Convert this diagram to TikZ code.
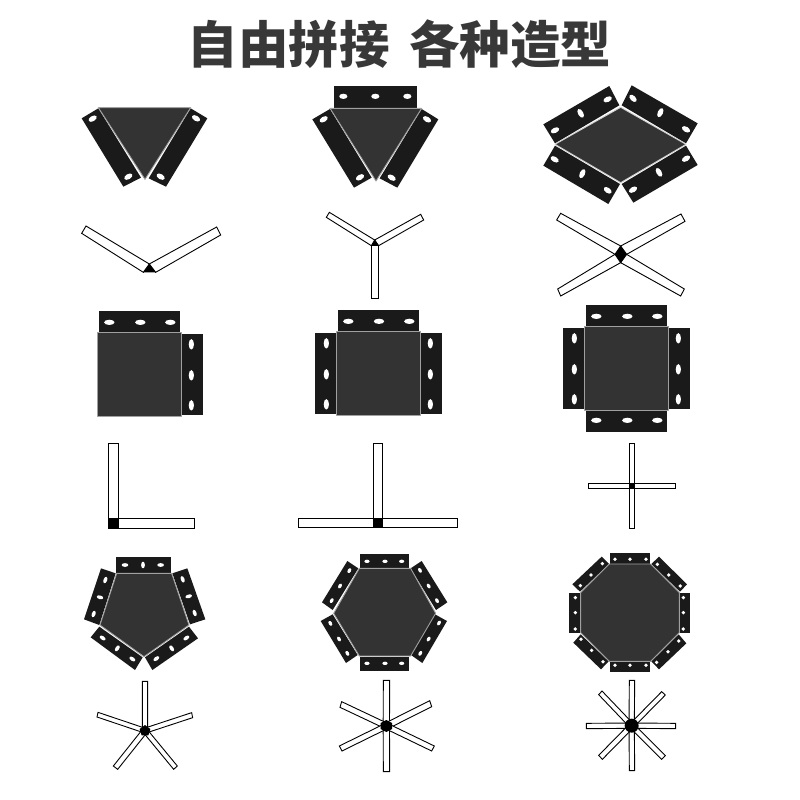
\documentclass[tikz,border=0pt]{standalone}
\usepackage{fontspec}
\newfontfamily\cjk{Noto Sans CJK SC}
\usetikzlibrary{calc}
\definecolor{plateblack}{HTML}{1A1A1A}
\definecolor{facegrey}{HTML}{333333}
\definecolor{edgegrey}{HTML}{A0A0A0}
\definecolor{titlegrey}{HTML}{383838}
\tikzset{
  plate/.style={fill=plateblack},
  face/.style={fill=facegrey,draw=edgegrey,line width=0.9pt,line join=round},
  barbox/.style={draw=black,fill=white,line width=0.9pt},
  hub/.style={fill=black},
  holefill/.style={fill=white},
  zoomed/.style={shift={#1},scale=0.33333}
}
% hole: x, y, x radius, y radius, rotation (radii enlarged slightly)
\newcommand\hl[5]{\fill[holefill,rotate around={#5:(#1,#2)}] (#1,#2) ellipse [x radius=1.12*#3,y radius=1.12*#4];}
% bar from the far end (A,B) to the centre C
\newcommand\spoke[3]{\draw[barbox] (#1) -- (#2) -- ($(#3)-.5*(#1)+.5*(#2)$) -- ($(#3)+.5*(#1)-.5*(#2)$) -- cycle;}
\begin{document}
\begin{tikzpicture}[x=1pt,y=-1pt]
\useasboundingbox (0,0) rectangle (800,800);
\node[inner sep=0pt,text=titlegrey] (title) at (399.5,44) {\cjk\bfseries\fontsize{50.5}{50.5}\selectfont 自由拼接\hspace{0.38em}各种造型};

% --- row 1, col 1: triangle
\begin{scope}[zoomed={(60,80)}]
\fill[plate] (65,115)--(115,85)--(243,293)--(190,320)--cycle;
\fill[plate] (392,85)--(442,115)--(318,320)--(266,295)--cycle;
\hl{98}{116}{12}{7}{30}\hl{205}{290}{12}{7}{30}
\hl{408}{115}{12}{7}{-30}\hl{302}{290}{12}{7}{-30}
\draw[face] (115,83)--(392,83)--(255,298)--cycle;
\draw[barbox] (78,438)--(65,460)--(250,577)--(268,552)--cycle;
\draw[barbox] (470,441)--(482,465)--(287,577)--(268,552)--cycle;
\fill[hub] (268,552)--(250,577)--(287,577)--cycle;
\end{scope}

% --- row 1, col 2: triangle, three plates
\begin{scope}[zoomed={(300,80)}]
\fill[plate] (103,18) rectangle (350,83);
\hl{130}{49}{11}{7}{0}\hl{226}{49}{11}{7}{0}\hl{322}{49}{11}{7}{0}
\fill[plate] (37,118)--(90,87)--(215,293)--(162,323)--cycle;
\fill[plate] (365,87)--(415,118)--(292,323)--(239,295)--cycle;
\hl{71}{118}{12}{7}{30}\hl{180}{292}{12}{7}{30}
\hl{381}{118}{12}{7}{-30}\hl{275}{293}{12}{7}{-30}
\draw[face] (90,85)--(365,85)--(228,303)--cycle;
\draw[barbox] (88,397)--(79,412)--(214,497)--(224,480)--cycle;
\draw[barbox] (362,403)--(371,420)--(236,497)--(224,480)--cycle;
\draw[barbox] (214,497) rectangle (236,656);
\fill[hub] (225,480)--(214,497)--(236,497)--cycle;
\end{scope}

% --- row 1, col 3: rhombus
\begin{scope}[zoomed={(530,80)}]
\fill[plate] (40,133)--(238,18)--(268,76)--(75,190)--cycle;
\fill[plate] (305,16)--(503,130)--(468,190)--(275,76)--cycle;
\fill[plate] (75,197)--(270,312)--(235,372)--(40,257)--cycle;
\fill[plate] (468,197)--(503,255)--(310,368)--(275,312)--cycle;
\hl{75}{151}{12}{7}{25}\hl{152}{100}{13}{7}{-60}\hl{233}{58}{12}{7}{25}
\hl{309}{55}{12}{7}{-45}\hl{391}{98}{13}{7}{65}\hl{468}{148}{12}{7}{-30}
\hl{74}{238}{12}{7}{-30}\hl{157}{281}{13}{7}{65}\hl{233}{331}{12}{7}{-35}
\hl{468}{236}{12}{7}{30}\hl{387}{277}{13}{7}{-60}\hl{309}{329}{12}{7}{30}
\draw[face,draw=edgegrey!50!white] (272,82)--(468,193)--(272,308)--(75,193)--cycle;
\draw[barbox] (92,400)--(80,420)--(255,523)--(272,498)--cycle;
\draw[barbox] (453,402)--(465,424)--(290,523)--(272,498)--cycle;
\draw[barbox] (83,627)--(92,648)--(272,548)--(255,523)--cycle;
\draw[barbox] (463,627)--(452,648)--(272,548)--(290,523)--cycle;
\fill[hub] (272,498)--(290,523)--(272,548)--(255,523)--cycle;
\end{scope}

% --- row 2, col 1: square, two plates
\begin{scope}[zoomed={(80,300)}]
\fill[plate] (57,33) rectangle (300,96);
\fill[plate] (306,102) rectangle (369,345);
\hl{88}{67}{14}{7}{0}\hl{181}{67}{14}{7}{0}\hl{271}{67}{14}{7}{0}
\hl{334}{133}{7}{14}{0}\hl{334}{226}{7}{14}{0}\hl{334}{316}{7}{14}{0}
\draw[face] (52,97) rectangle (304,349);
\draw[barbox] (85,430) rectangle (116,655);
\draw[barbox] (116,655) rectangle (344,685);
\fill[hub] (85,655) rectangle (116,686);
\end{scope}

% --- row 2, col 2: square, three plates
\begin{scope}[zoomed={(290,300)}]
\fill[plate] (144,30) rectangle (387,93);
\fill[plate] (75,99) rectangle (138,342);
\fill[plate] (393,99) rectangle (456,342);
\hl{175}{64}{14}{7}{0}\hl{267}{64}{14}{7}{0}\hl{358}{64}{14}{7}{0}
\hl{109}{130}{7}{14}{0}\hl{109}{223}{7}{14}{0}\hl{109}{313}{7}{14}{0}
\hl{421}{130}{7}{14}{0}\hl{421}{223}{7}{14}{0}\hl{421}{313}{7}{14}{0}
\draw[face] (139,94) rectangle (392,346);
\draw[barbox] (250,430) rectangle (278,655);
\draw[barbox] (25,655) rectangle (503,683);
\fill[hub] (249,655) rectangle (279,684);
\end{scope}

% --- row 2, col 3: square, four plates
\begin{scope}[zoomed={(550,300)}]
\fill[plate] (108,15) rectangle (351,78);
\fill[plate] (108,333) rectangle (351,396);
\fill[plate] (39,84) rectangle (102,327);
\fill[plate] (357,84) rectangle (420,327);
\hl{139}{49}{14}{7}{0}\hl{232}{49}{14}{7}{0}\hl{322}{49}{14}{7}{0}
\hl{139}{361}{14}{7}{0}\hl{232}{361}{14}{7}{0}\hl{322}{361}{14}{7}{0}
\hl{73}{115}{7}{14}{0}\hl{73}{208}{7}{14}{0}\hl{73}{298}{7}{14}{0}
\hl{385}{115}{7}{14}{0}\hl{385}{208}{7}{14}{0}\hl{385}{298}{7}{14}{0}
\draw[face] (103,79) rectangle (356,331);
\draw[barbox] (238,430) rectangle (254,686);
\draw[barbox] (115,550) rectangle (377,566);
\fill[hub] (238,550) rectangle (254,566);
\end{scope}

% --- row 3, col 1: pentagon
\begin{scope}[zoomed={(70,540)}]
\fill[plate] (138,51) rectangle (302,100);
\fill[plate] (93,85)--(137,100)--(88,255)--(42,238)--cycle;
\fill[plate] (307,100)--(352,85)--(406,238)--(360,253)--cycle;
\fill[plate] (62,292)--(88,260)--(218,352)--(195,390)--cycle;
\fill[plate] (225,352)--(357,260)--(384,295)--(247,390)--cycle;
\hl{165}{75}{9}{5}{0}\hl{219}{75}{5}{9}{0}\hl{272}{75}{9}{5}{0}
\hl{106}{120}{9}{5}{70}\hl{90}{172}{9}{5}{-15}\hl{71}{222}{9}{5}{70}
\hl{338}{118}{9}{5}{-70}\hl{356}{169}{9}{5}{15}\hl{374}{219}{9}{5}{-70}
\hl{98}{294}{9}{5}{-35}\hl{142}{325}{9}{5}{55}\hl{187}{357}{9}{5}{-35}
\hl{349}{294}{9}{5}{35}\hl{305}{325}{9}{5}{-55}\hl{259}{356}{9}{5}{35}
\draw[face] (140,100)--(305,100)--(357,255)--(222,350)--(90,255)--cycle;
\coordinate (c) at (225,572);
\spoke{217,424}{233,424}{c}
\spoke{84,517}{81,531}{c}
\spoke{365,518}{368,533}{c}
\spoke{130,678}{143,688}{c}
\spoke{322,678}{311,688}{c}
\fill[hub] (225,555)--(241,567)--(235,586)--(215,586)--(209,567)--cycle;
\end{scope}

% --- row 3, col 2: hexagon
\begin{scope}[zoomed={(310,545)}]
\fill[plate] (150,27) rectangle (297,69);
\fill[plate] (150,335) rectangle (297,377);
\fill[plate] (36,172)--(112,48)--(145,70)--(68,195)--cycle;
\fill[plate] (302,70)--(335,48)--(412,172)--(378,195)--cycle;
\fill[plate] (32,228)--(68,208)--(143,330)--(108,354)--cycle;
\fill[plate] (375,208)--(411,228)--(337,354)--(303,330)--cycle;
\hl{171}{49}{7}{4.5}{0}\hl{225}{49}{7}{4.5}{0}\hl{275}{49}{7}{4.5}{0}
\hl{171}{355}{7}{4.5}{0}\hl{225}{355}{7}{4.5}{0}\hl{275}{355}{7}{4.5}{0}
\hl{118}{77}{7}{4.5}{60}\hl{90}{123}{7}{4.5}{60}\hl{65}{167}{7}{4.5}{60}
\hl{330}{76}{7}{4.5}{-60}\hl{356}{123}{7}{4.5}{-60}\hl{381}{167}{7}{4.5}{-60}
\hl{61}{235}{7}{4.5}{-60}\hl{87}{282}{7}{4.5}{-60}\hl{112}{325}{7}{4.5}{-60}
\hl{387}{234}{7}{4.5}{60}\hl{356}{282}{7}{4.5}{60}\hl{331}{325}{7}{4.5}{60}
\draw[face] (148,70)--(302,70)--(377,205)--(302,333)--(148,333)--(71,205)--cycle;
\coordinate (c) at (229,543);
\spoke{220,406}{239,406}{c}
\spoke{220,680}{239,680}{c}
\spoke{95,470}{90,487}{c}
\spoke{359,467}{365,485}{c}
\spoke{88,603}{96,618}{c}
\spoke{373,603}{365,618}{c}
\fill[hub] (229,525)--(246,534)--(246,552)--(229,561)--(212,552)--(212,534)--cycle;
\end{scope}

% --- row 3, col 3: octagon
\begin{scope}[zoomed={(540,540)}]
\fill[plate] (210,39) rectangle (330,71);
\fill[plate] (210,366) rectangle (330,396);
\fill[plate] (87,159) rectangle (120,278);
\fill[plate] (420,159) rectangle (450,278);
\fill[plate] (97,133)--(185,50)--(207,72)--(120,155)--cycle;
\fill[plate] (334,72)--(357,50)--(441,133)--(420,155)--cycle;
\fill[plate] (100,308)--(122,283)--(206,364)--(183,388)--cycle;
\fill[plate] (334,364)--(416,283)--(439,310)--(357,388)--cycle;
\hl{225}{58}{5}{5}{0}\hl{270}{58}{5}{5}{0}\hl{318}{58}{5}{5}{0}
\hl{225}{376}{5}{5}{0}\hl{270}{376}{5}{5}{0}\hl{318}{376}{5}{5}{0}
\hl{106}{173}{5}{5}{0}\hl{106}{218}{5}{5}{0}\hl{106}{267}{5}{5}{0}
\hl{430}{173}{5}{5}{0}\hl{430}{218}{5}{5}{0}\hl{430}{267}{5}{5}{0}
\hl{121}{137}{5}{5}{0}\hl{153}{105}{5}{5}{0}\hl{187}{71}{5}{5}{0}
\hl{352}{73}{5}{5}{0}\hl{386}{105}{5}{5}{0}\hl{421}{138}{5}{5}{0}
\hl{123}{298}{5}{5}{0}\hl{155}{331}{5}{5}{0}\hl{189}{365}{5}{5}{0}
\hl{416}{303}{5}{5}{0}\hl{384}{335}{5}{5}{0}\hl{350}{367}{5}{5}{0}
\draw[face] (208,72)--(332,72)--(418,158)--(418,278)--(332,364)--(208,364)--(122,278)--(122,158)--cycle;
\coordinate (c) at (275,557);
\spoke{268,421}{284,421}{c}
\spoke{268,692}{284,692}{c}
\spoke{139,550}{139,566}{c}
\spoke{407,550}{407,566}{c}
\spoke{186,453}{176,464}{c}
\spoke{365,455}{376,465}{c}
\spoke{176,646}{187,658}{c}
\spoke{376,647}{365,658}{c}
\fill[hub] (275,557) circle [radius=21];
\end{scope}
\end{tikzpicture}
\end{document}
